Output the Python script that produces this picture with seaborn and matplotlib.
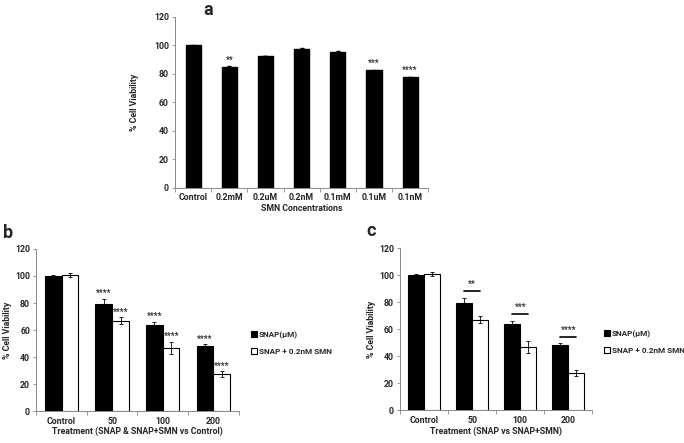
import matplotlib
matplotlib.use("Agg")
import matplotlib.pyplot as plt
import seaborn as sns
import pandas as pd
import numpy as np

# panel a
smn_conc = ['Control', '0.2mM', '0.2uM', '0.2nM', '0.1mM', '0.1uM', '0.1nM']
smn_viab = [100, 85, 92.5, 97.5, 95.5, 82.5, 77.5]
smn_err = [0.3, 0.4, 0.3, 0.3, 0.3, 0.4, 0.4]
smn_sig = ['', '**', '', '', '', '***', '****']

# panels b and c
treatments = ['Control', '50', '100', '200']
snap = [100, 79, 64, 48]
snap_err = [0.5, 4, 2, 1.5]
snap_smn = [100.5, 67, 47, 27.5]
snap_smn_err = [1.5, 2.5, 4.5, 2]
sig_b_snap = ['', '****', '****', '****']
sig_b_smn = ['', '****', '****', '****']
sig_c = ['', '**', '***', '****']

series_names = ['SNAP(\u00b5M)', 'SNAP + 0.2nM SMN']

sns.set_style("ticks")
plt.rcParams['font.family'] = ['Roboto', 'DejaVu Sans']
plt.rcParams['font.weight'] = 'bold'
FS = 6.3
STAR_FS = 6.2

fig = plt.figure(figsize=(6.84, 4.43), dpi=100)
ax_a = fig.add_axes([0.256, 0.576, 0.370, 0.386])
ax_b = fig.add_axes([0.053, 0.072, 0.296, 0.366])
ax_c = fig.add_axes([0.585, 0.074, 0.281, 0.366])


def style_axes(ax, n):
    ax.set_ylim(0, 120)
    ax.set_yticks(range(0, 121, 20))
    ax.set_xlim(-0.5, n - 0.5)
    ax.set_xticks(range(n))
    ax.set_xticks(np.arange(-0.5, n, 1), minor=True)
    ax.tick_params(axis='x', which='major', length=0, labelsize=FS, pad=4)
    ax.tick_params(axis='x', which='minor', length=3, color='#888888', width=0.6)
    ax.tick_params(axis='y', length=2.5, color='#888888', width=0.6,
                   labelsize=FS, pad=2)
    for s in ['top', 'right']:
        ax.spines[s].set_visible(False)
    for s in ['left', 'bottom']:
        ax.spines[s].set_color('#888888')
        ax.spines[s].set_linewidth(0.7)
    ax.set_ylabel('% Cell Viability', fontsize=FS, fontweight='bold', labelpad=2)


# ---- panel a ----
df_a = pd.DataFrame({'conc': smn_conc, 'viab': smn_viab})
sns.barplot(data=df_a, x='conc', y='viab', color='black', edgecolor='black',
            width=0.42, errorbar=None, ax=ax_a, saturation=1)
for p, e, s in zip(ax_a.patches, smn_err, smn_sig):
    xc = p.get_x() + p.get_width() / 2
    h = p.get_height()
    ax_a.errorbar(xc, h, yerr=e, color='black', capsize=1.5, lw=0.6)
    if s:
        ax_a.text(xc, h + 1.5, s, ha='center', va='bottom', fontsize=STAR_FS)
style_axes(ax_a, len(smn_conc))
ax_a.set_xlabel('SMN Concentrations', fontsize=FS, fontweight='bold', labelpad=1)
ax_a.set_ylabel('% Cell Viability', fontsize=FS, fontweight='bold', labelpad=11)

# ---- panels b and c ----
df_bc = pd.DataFrame({
    'treatment': treatments * 2,
    'viab': snap + snap_smn,
    'group': [series_names[0]] * 4 + [series_names[1]] * 4,
})
errs = snap_err + snap_smn_err

for ax in (ax_b, ax_c):
    sns.barplot(data=df_bc, x='treatment', y='viab', hue='group',
                palette=['black', 'white'], edgecolor='black', linewidth=0.8,
                width=0.66, errorbar=None, ax=ax, saturation=1)
    bars = [p for p in ax.patches if p.get_height() > 0][:8]
    for p, e in zip(bars, errs):
        xc = p.get_x() + p.get_width() / 2
        ax.errorbar(xc, p.get_height(), yerr=e, color='black', capsize=1.5,
                    lw=0.6, capthick=0.6)
    style_axes(ax, len(treatments))
    ax.legend(loc='center left', bbox_to_anchor=(1.06, 0.42), frameon=False,
              fontsize=5.9, handlelength=0.75, handleheight=0.75,
              handletextpad=0.25, labelspacing=1.1, borderaxespad=0,
              borderpad=0)

# stars in b
bars_b = [p for p in ax_b.patches if p.get_height() > 0][:8]
sigs_b = sig_b_snap + sig_b_smn
for p, e, s in zip(bars_b, errs, sigs_b):
    if s:
        ax_b.text(p.get_x() + p.get_width() / 2, p.get_height() + e + 0.5, s,
                  ha='center', va='bottom', fontsize=STAR_FS)
ax_b.set_xlabel('Treatment (SNAP & SNAP+SMN vs Control)', fontsize=FS,
                fontweight='bold', labelpad=1)

# stars with lines in c
bars_c = [p for p in ax_c.patches if p.get_height() > 0][:8]
for i, s in enumerate(sig_c):
    if not s:
        continue
    p1, p2 = bars_c[i], bars_c[i + 4]
    top = max(p1.get_height() + errs[i], p2.get_height() + errs[i + 4]) + 5
    x1 = p1.get_x() + p1.get_width() / 2
    x2 = p2.get_x() + p2.get_width() / 2
    ax_c.plot([x1, x2], [top, top], color='black', lw=1.2)
    ax_c.text((x1 + x2) / 2, top + 1.5, s, ha='center', va='bottom',
              fontsize=STAR_FS)
ax_c.set_xlabel('Treatment (SNAP vs SNAP+SMN)', fontsize=FS,
                fontweight='bold', labelpad=1)

fig.text(0.297, 0.998, 'a', fontsize=13, fontweight='bold', va='top')
fig.text(0.004, 0.495, 'b', fontsize=13, fontweight='bold', va='top')
fig.text(0.535, 0.498, 'c', fontsize=13, fontweight='bold', va='top')

fig.savefig('out.png', dpi=100)
